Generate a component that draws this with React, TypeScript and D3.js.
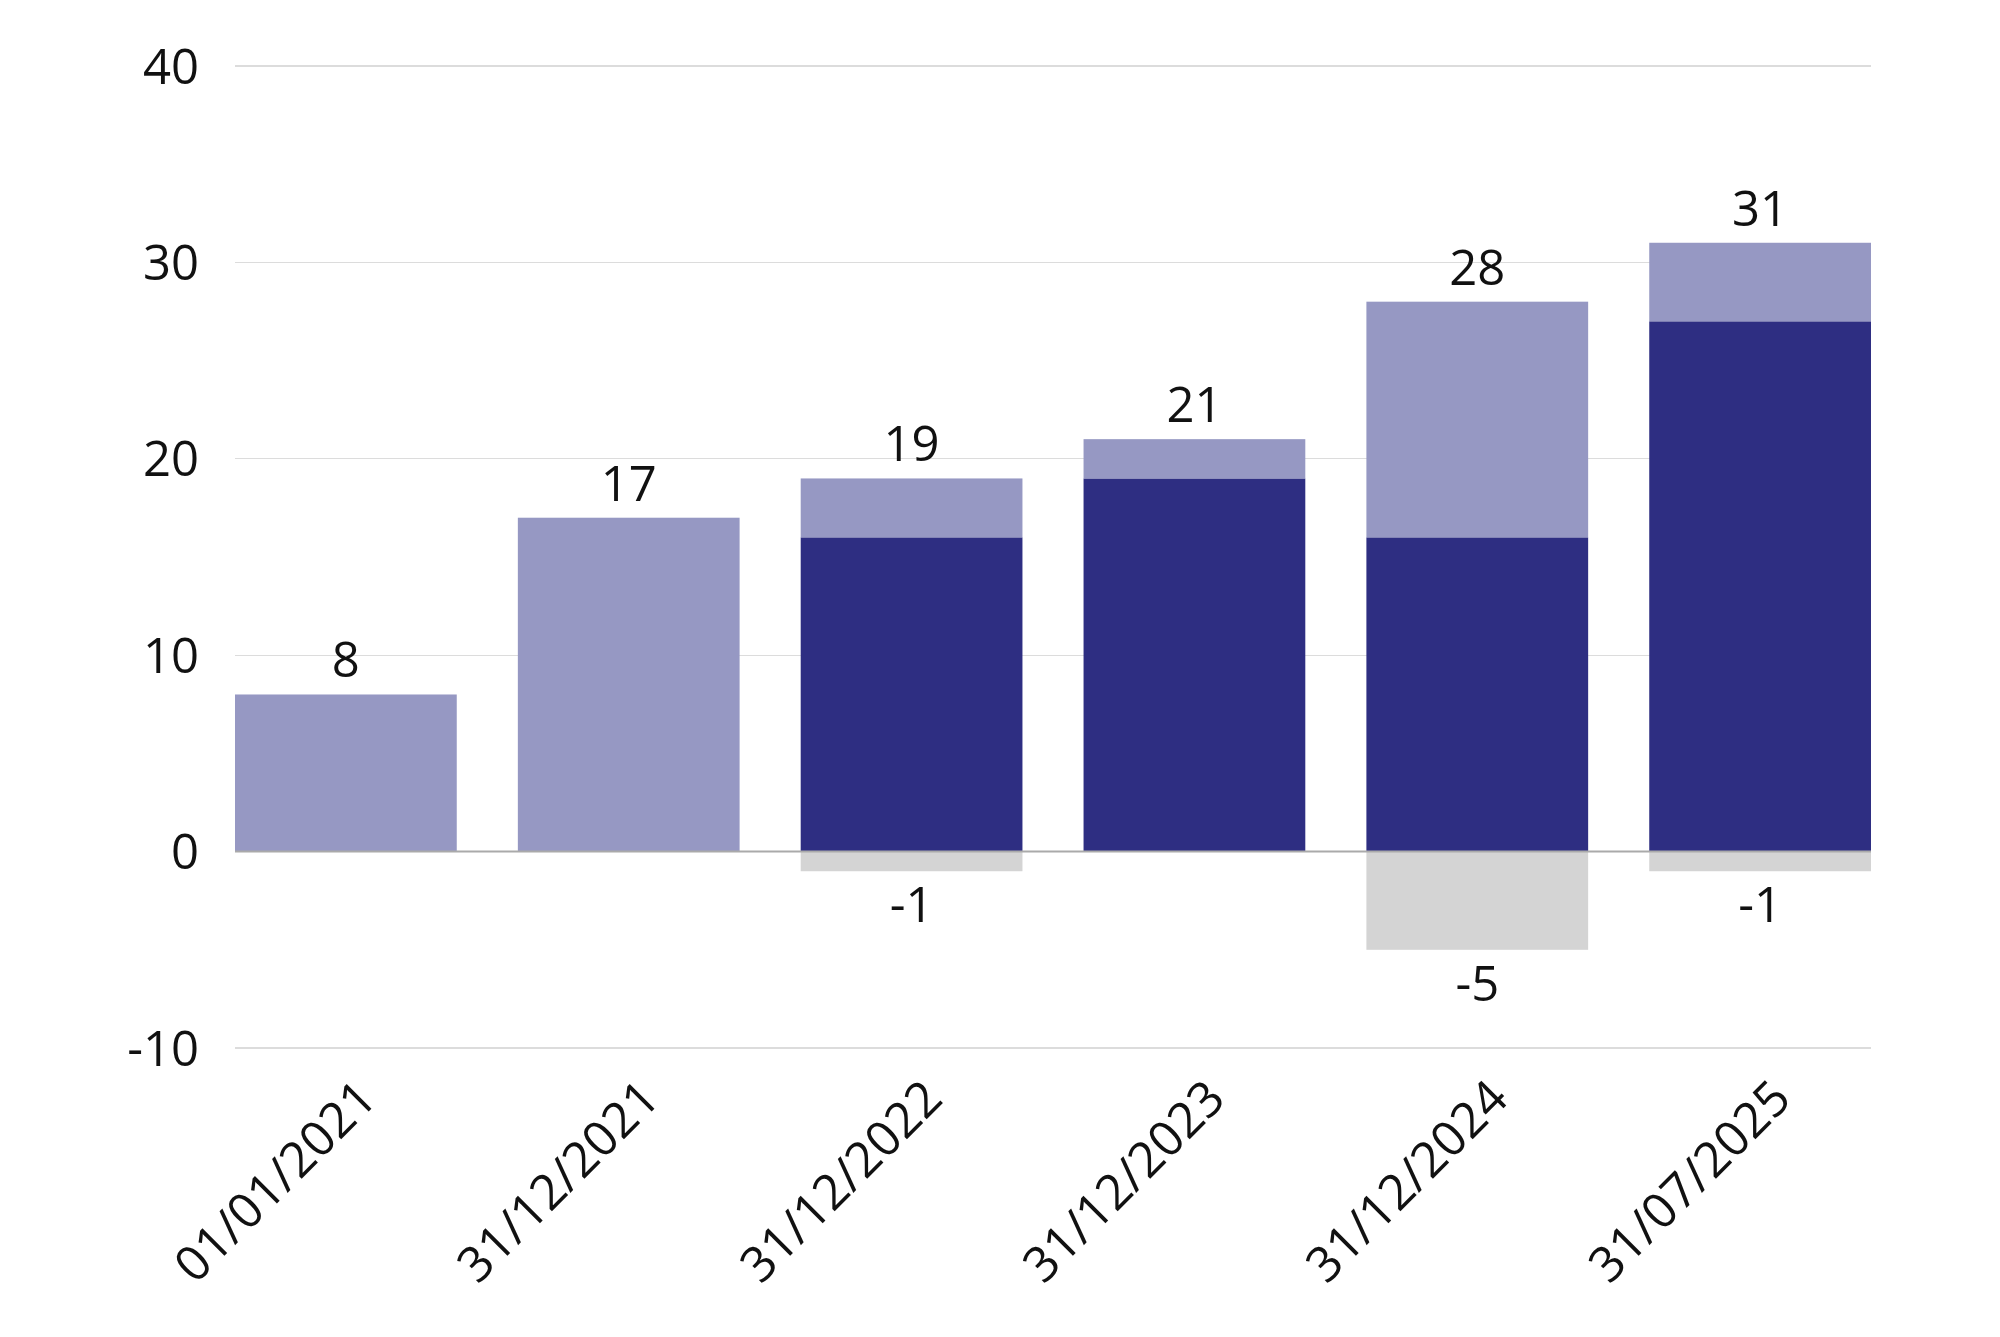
import * as d3 from "d3";
import React, { useEffect, useRef } from "react";

const dates = ["01/01/2021", "31/12/2021", "31/12/2022", "31/12/2023", "31/12/2024", "31/07/2025"];
const darkValues = [0, 0, 16, 19, 16, 27];
const lightValues = [8, 17, 3, 2, 12, 4];
const negValues = [0, 0, -1, 0, -5, -1];
const yTicks = [-10, 0, 10, 20, 30, 40];

const LIGHT = "#9698c3";
const DARK = "#2e2e82";
const GREY = "#d4d4d4";

export default function App() {
  const ref = useRef<SVGSVGElement>(null);

  useEffect(() => {
    const width = 2000;
    const height = 1337;
    const svg = d3.select(ref.current).attr("width", width).attr("height", height);
    svg.selectAll("*").remove();

    const x = d3.scaleBand().domain(dates).range([235, 1871]).paddingInner(0.216).paddingOuter(0);
    const y = d3.scaleLinear().domain([-10, 40]).range([1048, 66]);

    const font = "'Open Sans', sans-serif";
    const fs = 49;

    // grid
    svg
      .append("g")
      .selectAll("line")
      .data(yTicks.filter((t) => t !== 0))
      .enter()
      .append("line")
      .attr("x1", 235)
      .attr("x2", 1871)
      .attr("y1", (d) => y(d))
      .attr("y2", (d) => y(d))
      .attr("stroke", "#dcdcdc")
      .attr("stroke-width", 1.3)
      .attr("shape-rendering", "crispEdges");

    svg
      .append("g")
      .selectAll("text")
      .data(yTicks)
      .enter()
      .append("text")
      .attr("x", 199)
      .attr("y", (d) => y(d))
      .attr("dy", "0.36em")
      .attr("text-anchor", "end")
      .attr("font-family", font)
      .attr("font-size", fs)
      .attr("fill", "#111")
      .text((d) => d);

    const rows = dates.map((d, i) => ({
      date: d,
      dark: darkValues[i],
      light: lightValues[i],
      neg: negValues[i],
      total: darkValues[i] + lightValues[i],
    }));

    const bars = svg.append("g");
    // negatives
    bars
      .selectAll(".neg")
      .data(rows.filter((r) => r.neg < 0))
      .enter()
      .append("rect")
      .attr("x", (d) => x(d.date)!)
      .attr("width", x.bandwidth())
      .attr("y", y(0))
      .attr("height", (d) => y(d.neg) - y(0))
      .attr("fill", GREY);
    // dark
    bars
      .selectAll(".dark")
      .data(rows.filter((r) => r.dark > 0))
      .enter()
      .append("rect")
      .attr("x", (d) => x(d.date)!)
      .attr("width", x.bandwidth())
      .attr("y", (d) => y(d.dark))
      .attr("height", (d) => y(0) - y(d.dark))
      .attr("fill", DARK);
    // light stacked on top
    bars
      .selectAll(".light")
      .data(rows.filter((r) => r.light > 0))
      .enter()
      .append("rect")
      .attr("x", (d) => x(d.date)!)
      .attr("width", x.bandwidth())
      .attr("y", (d) => y(d.total))
      .attr("height", (d) => y(d.dark) - y(d.total))
      .attr("fill", LIGHT);

    // zero line
    svg
      .append("line")
      .attr("x1", 235)
      .attr("x2", 1871)
      .attr("y1", y(0))
      .attr("y2", y(0))
      .attr("stroke", "#aaaaaa")
      .attr("stroke-width", 2);

    // value labels
    svg
      .append("g")
      .selectAll("text")
      .data(rows)
      .enter()
      .append("text")
      .attr("x", (d) => x(d.date)! + x.bandwidth() / 2)
      .attr("y", (d) => y(d.total) - 17)
      .attr("text-anchor", "middle")
      .attr("font-family", font)
      .attr("font-size", fs)
      .attr("fill", "#111")
      .text((d) => d.total);

    svg
      .append("g")
      .selectAll("text")
      .data(rows.filter((r) => r.neg < 0))
      .enter()
      .append("text")
      .attr("x", (d) => x(d.date)! + x.bandwidth() / 2)
      .attr("y", (d) => y(d.neg) + 12)
      .attr("dy", "0.8em")
      .attr("text-anchor", "middle")
      .attr("font-family", font)
      .attr("font-size", fs)
      .attr("fill", "#111")
      .text((d) => d.neg);

    // x labels
    svg
      .append("g")
      .selectAll("text")
      .data(dates)
      .enter()
      .append("text")
      .attr(
        "transform",
        (d) => `translate(${x(d)! + x.bandwidth() / 2 + 9},${1077}) rotate(-45)`
      )
      .attr("text-anchor", "end")
      .attr("dy", "0.7em")
      .attr("font-family", font)
      .attr("font-size", fs)
      .attr("fill", "#111")
      .text((d) => d);
  }, []);

  return (
    <div style={{ position: "absolute", left: 0, top: 0 }}>
      <svg ref={ref} />
    </div>
  );
}
